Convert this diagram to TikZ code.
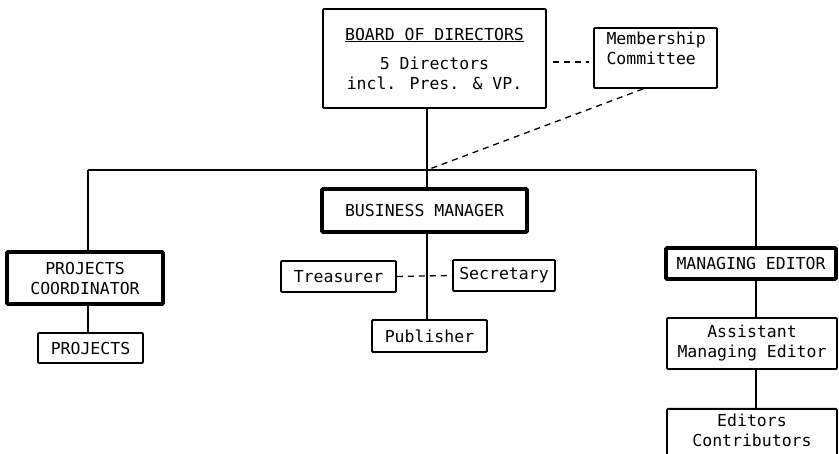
\documentclass[tikz,border=0pt]{standalone}
\usepackage{fontspec}
\newfontfamily\tw{DejaVu Sans Mono}
\usetikzlibrary{calc}
\tikzset{
  box/.style={draw, line width=1.9pt, rounded corners=1pt, inner sep=0pt, align=center,
    font=\tw\fontsize{16.5}{20}\selectfont},
  thickbox/.style={box, line width=3.8pt},
  link/.style={line width=2pt},
  dlink/.style={line width=1.3pt, dash pattern=on 6pt off 5pt},
}
\begin{document}
\begin{tikzpicture}[x=1pt,y=-1pt]
\useasboundingbox (0,0) rectangle (839,454);
% nodes
\node[box, minimum width=223pt, minimum height=99pt] (board) at (434.5,58.5)
  {\underline{BOARD OF DIRECTORS}\\[9pt]5 Directors\\incl. Pres. \& VP.};
\node[box, minimum width=123pt, minimum height=60pt, text width=98pt, align=left] (memb) at (655.5,58)
  {Membership\\Committee\\\mbox{}};
\node[thickbox, minimum width=205pt, minimum height=43pt] (bm) at (424.5,210.5) {BUSINESS MANAGER};
\node[box, minimum width=115pt, minimum height=31pt] (treas) at (338.5,276.5) {Treasurer};
\node[box, minimum width=102pt, minimum height=31pt] (secr) at (504,275.5) {Secretary};
\node[box, minimum width=115pt, minimum height=32pt] (pub) at (429.5,336) {Publisher};
\node[thickbox, minimum width=156pt, minimum height=52pt] (pc) at (85,278) {PROJECTS\\COORDINATOR};
\node[box, minimum width=105pt, minimum height=30pt] (proj) at (90.5,348) {PROJECTS};
\node[thickbox, minimum width=170pt, minimum height=31pt] (me) at (751,263.5) {MANAGING EDITOR};
\node[box, minimum width=170pt, minimum height=51pt] (ame) at (752,343.5) {Assistant\\Managing Editor};
\node[box, minimum width=170pt, minimum height=62pt, anchor=north, text depth=20pt] (ec) at (752,408) {Editors\\Contributors};
% junction coordinates
\coordinate (J) at (427,170);
\coordinate (L) at (88,170);
\coordinate (R) at (756,170);
% connectors
\draw[link] (board.south -| J) -- (J);
\draw[link] (L) -- (R);
\draw[link] (J) -- (bm.north -| J);
\draw[link] (L) -- (pc.north -| L);
\draw[link] (R) -- (me.north -| R);
\draw[link] (bm.south -| J) -- (pub.north -| J);
\draw[link] (pc.south -| L) -- (proj.north -| L);
\draw[link] (me.south -| R) -- (ame.north -| R);
\draw[link] (ame.south -| R) -- (ec.north -| R);
\draw[dlink] ([xshift=6pt]board.east |- 0,62) -- ([xshift=-4pt]memb.west |- 0,62);
\draw[dlink] ($(memb.south west)!0.4!(memb.south east)$) -- (J);
\draw[dlink] (treas.east) -- (secr.west);
\end{tikzpicture}
\end{document}
